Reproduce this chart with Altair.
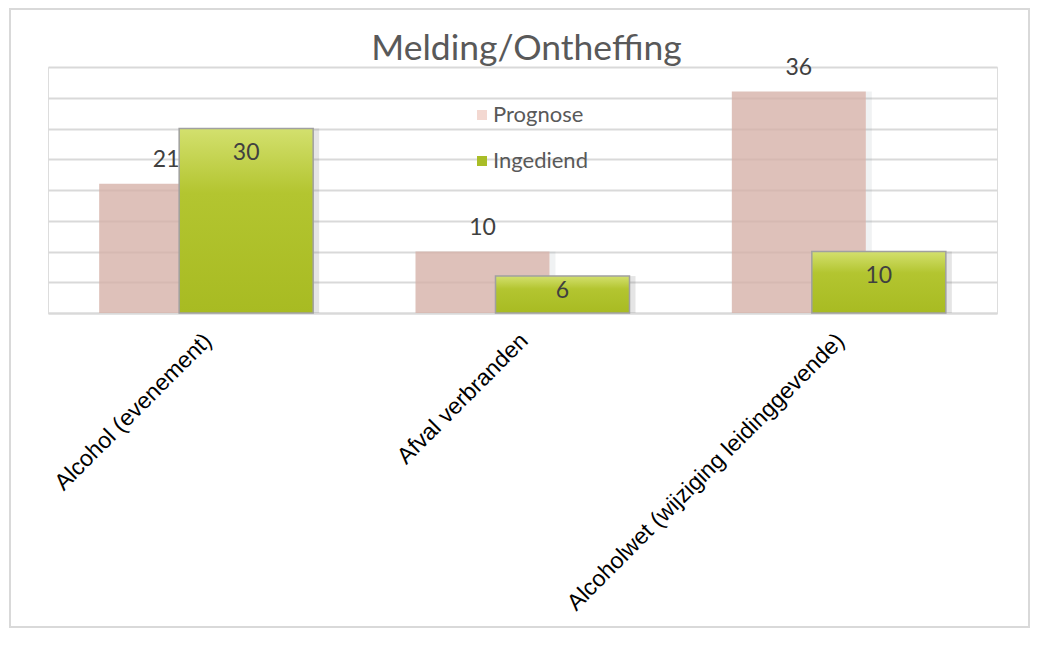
import altair as alt
import pandas as pd

categories = ["Alcohol (evenement)", "Afval verbranden", "Alcoholwet (wijziging leidinggevende)"]
prognose = [21, 10, 36]
ingediend = [30, 6, 10]
series_names = ["Prognose", "Ingediend"]
title_text = "Melding/Ontheffing"

rows = []
for c, p, i in zip(categories, prognose, ingediend):
    rows.append({"cat": c, "series": "Prognose", "value": p})
    rows.append({"cat": c, "series": "Ingediend", "value": i})
df = pd.DataFrame(rows)

W, H = 949, 246
BW = 134
OFF = 40
GRID = "#d9d9d9"

x_enc = alt.X(
    "cat:N", sort=categories,
    scale=alt.Scale(paddingInner=0, paddingOuter=0),
    axis=alt.Axis(
        title=None, labelAngle=-45, labelAlign="right", labelBaseline="top",
        labelFont="Liberation Sans", labelFontSize=23, labelColor="#000000",
        ticks=False, domainColor=GRID, domainWidth=2, labelPadding=16, labelOffset=-6,
        labelLimit=700, grid=False,
    ),
)
y_enc = alt.Y(
    "value:Q", scale=alt.Scale(domain=[0, 40]),
    axis=alt.Axis(
        title=None, labels=False, ticks=False, domain=False,
        tickCount=8, gridColor=GRID, gridWidth=2,
    ),
)

base = alt.Chart(df)

border = alt.Chart(alt.Data(values=[{}])).mark_rect(
    filled=False, stroke=GRID, strokeWidth=2
).encode(
    x=alt.value(-38), x2=alt.value(981), y=alt.value(-58), y2=alt.value(560)
)

title = alt.Chart(alt.Data(values=[{"t": title_text}])).mark_text(
    font="Lato", fontSize=35.5, color="#595959", baseline="alphabetic", align="center"
).encode(x=alt.value(W / 2 + 4), y=alt.value(-7), text="t:N")

legend_layer = base.transform_filter("false").mark_bar(width=BW).encode(
    x=x_enc, y=y_enc,
    color=alt.Color(
        "series:N",
        scale=alt.Scale(domain=series_names, range=["#f3d8d1", "#a9bd27"]),
        legend=alt.Legend(
            title=None, orient="none", legendX=423, legendY=37,
            symbolType="square", symbolSize=100, symbolStrokeWidth=0,
            symbolOpacity=1,
            labelFont="Lato", labelFontSize=22, labelColor="#595959",
            labelOffset=0, rowPadding=24, padding=0,
        ),
    ),
)

pink_shadow = base.transform_filter(alt.datum.series == "Prognose").mark_bar(
    color="#8090a0", opacity=0.12, width=6, xOffset=-OFF + BW / 2 + 3
).encode(x=x_enc, y=y_enc)

pink = base.transform_filter(alt.datum.series == "Prognose").mark_bar(
    width=BW, xOffset=-OFF, color="#d5b0a6", opacity=0.78
).encode(x=x_enc, y=y_enc)

green_shadow = base.transform_filter(alt.datum.series == "Ingediend").mark_bar(
    color="#707070", opacity=0.18, width=6, xOffset=OFF + BW / 2 + 3
).encode(x=x_enc, y=y_enc)

green = base.transform_filter(alt.datum.series == "Ingediend").mark_bar(
    width=BW, xOffset=OFF, stroke="#a0a0a0", strokeWidth=1.5,
    fill=alt.Gradient(
        gradient="linear", x1=0, x2=0, y1=0, y2=1,
        stops=[
            alt.GradientStop(color="#d3e06e", offset=0),
            alt.GradientStop(color="#b3c530", offset=0.35),
            alt.GradientStop(color="#a8bb22", offset=1),
        ],
    ),
).encode(x=x_enc, y=y_enc)

pink_labels = base.transform_filter(alt.datum.series == "Prognose").mark_text(
    font="Lato", fontSize=23, color="#404040", xOffset=-OFF, dy=-24, baseline="middle"
).encode(x=x_enc, y=y_enc, text="value:Q")

green_labels = base.transform_filter(alt.datum.series == "Ingediend").transform_calculate(
    labelpos="max(datum.value - 4, datum.value * 0.6)"
).mark_text(
    font="Lato", fontSize=23, color="#404040", xOffset=OFF, baseline="middle"
).encode(x=x_enc, y=alt.Y("labelpos:Q"), text="value:Q")

chart = alt.layer(
    border, title, legend_layer, pink_shadow, pink, green_shadow, green,
    pink_labels, green_labels
).properties(
    width=W, height=H, padding={"left": 1, "top": 0, "right": 0, "bottom": 0}
).configure_view(stroke=None).configure(background="white")

chart.save("out.html", embed_options={"renderer": "svg", "actions": False})
